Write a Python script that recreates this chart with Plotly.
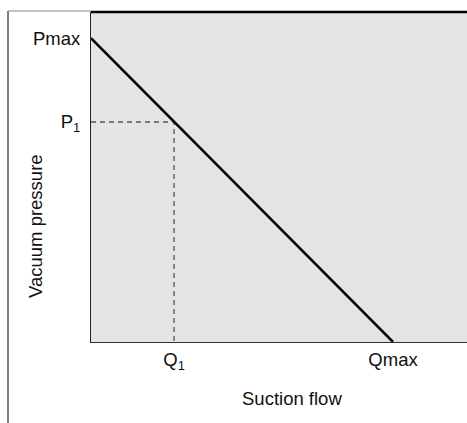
import plotly.graph_objects as go

# Data (arbitrary units read from the schematic)
q_max = 100.0
q_1 = 27.5
p_max = 100.0
p_1 = 72.4
line_x = [0.0, q_max]
line_y = [p_max, 0.0]
x_tick_vals = [q_1, q_max]
x_tick_text = ["Q<sub>1</sub>", "Qmax"]
y_tick_vals = [p_1, p_max]
y_tick_text = ["P<sub>1</sub>", "Pmax"]
x_title = "Suction flow"
y_title = "Vacuum pressure"

FONT = "Liberation Sans, Arial, Helvetica, sans-serif"
FS = 18.5

fig = go.Figure()
# dashed guide lines to operating point
fig.add_trace(go.Scatter(x=[0, q_1, q_1], y=[p_1, p_1, 0], mode="lines",
                         line=dict(color="#555555", width=1.3, dash="5px,4px"),
                         hoverinfo="skip", showlegend=False))
# characteristic line
fig.add_trace(go.Scatter(x=line_x, y=line_y, mode="lines",
                         line=dict(color="black", width=2.5),
                         hoverinfo="skip", showlegend=False))

W, H = 467, 423
ml, mt, mr, mb = 91, 12, 0, 81
pw, ph = W - ml - mr, H - mt - mb

def px(xp):
    return (xp - ml) / pw

def py(yp):
    return (H - mb - yp) / ph

fig.update_layout(
    width=W, height=H,
    margin=dict(l=ml, r=mr, t=mt, b=mb, pad=0),
    paper_bgcolor="white",
    plot_bgcolor="#e4e4e4",
    font=dict(family=FONT, size=FS, color="#111111"),
    xaxis=dict(range=[0, q_max * 1.245], tickvals=x_tick_vals, ticktext=x_tick_text,
               showgrid=False, zeroline=False, showline=True, linecolor="#333333",
               linewidth=1.2, ticks="", ticklabelstandoff=1, fixedrange=True),
    yaxis=dict(range=[0, p_max * 1.086], tickvals=y_tick_vals, ticktext=y_tick_text,
               showgrid=False, zeroline=False, showline=True, linecolor="#222222",
               linewidth=1.2, ticks="", ticklabelstandoff=6, fixedrange=True),
    shapes=[
        # outer frame: left vertical line and top line
        dict(type="line", xref="paper", yref="paper", x0=px(8), x1=px(8),
             y0=py(11), y1=py(H + 2), line=dict(color="#555555", width=1.5)),
        dict(type="line", xref="paper", yref="paper", x0=px(8), x1=px(91),
             y0=py(11), y1=py(11), line=dict(color="#888888", width=1.2)),
        dict(type="line", xref="paper", yref="paper", x0=0, x1=1,
             y0=py(12), y1=py(12), line=dict(color="black", width=2.5)),
    ],
    annotations=[
        dict(text=x_title, xref="paper", yref="paper", x=px(292), y=py(398),
             xanchor="center", yanchor="middle", showarrow=False,
             font=dict(family=FONT, size=FS, color="#111111")),
        dict(text=y_title, xref="paper", yref="paper", x=px(35), y=py(226),
             xanchor="center", yanchor="middle", showarrow=False, textangle=-90,
             font=dict(family=FONT, size=FS, color="#111111")),
    ],
)

fig.write_html("out.html",
               config={"displayModeBar": False},
               post_script="document.body.style.margin='0';"
                           "document.body.style.overflow='hidden';")
